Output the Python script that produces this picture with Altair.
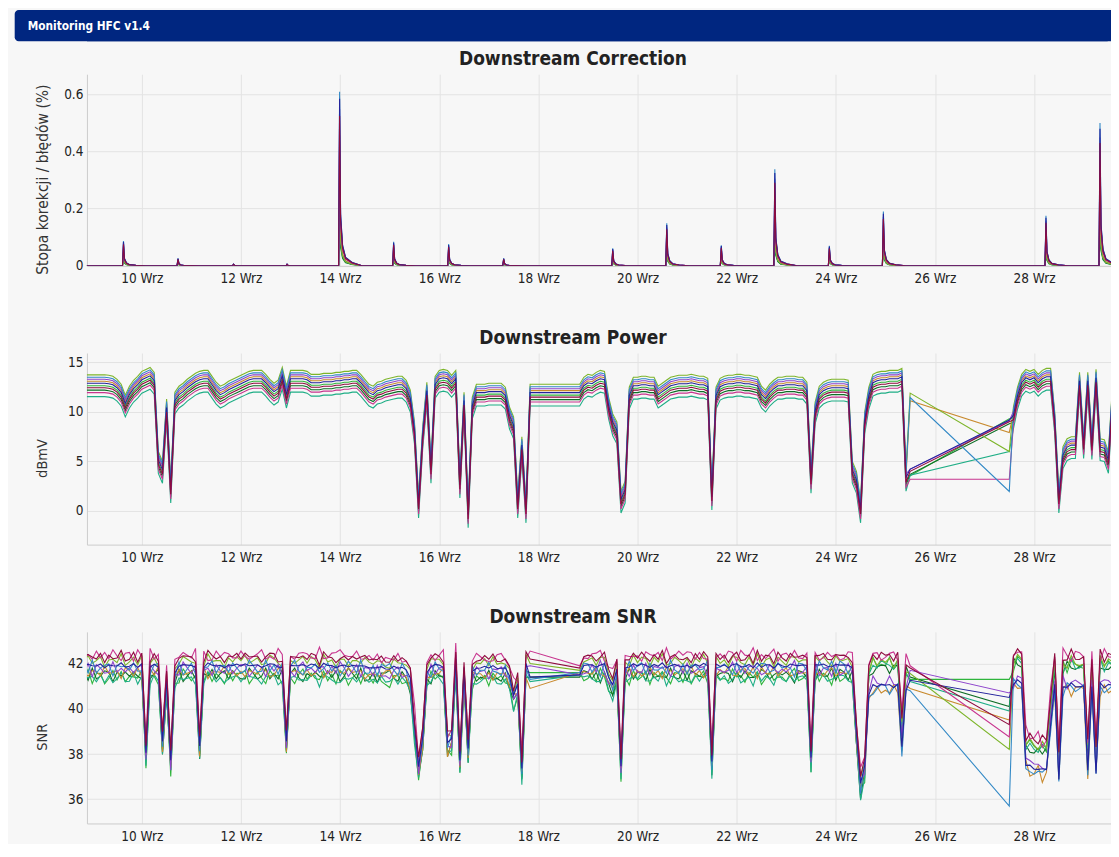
import altair as alt
import pandas as pd

FONT = "DejaVu Sans Condensed, DejaVu Sans, sans-serif"

# channels in drawing order (last one is drawn on top)
CHANNELS = ["green", "dkgreen", "teal", "orange", "olive", "magenta", "violet", "blue", "navy", "maroon"]
COLORS = ["#2fb53c", "#0e6e26", "#1fae86", "#c88a2e", "#7db52a", "#c8358f", "#8e44cc", "#3389c6", "#23229b", "#8e0b3e"]

DAYS = list(range(8, 30))
HOURS = [0, 2, 4, 6, 8, 10, 12, 14, 16, 18, 20, 22]
X_DOMAIN = [8.893, 29.552]
X_TICKS = [10, 12, 14, 16, 18, 20, 22, 24, 26, 28]

N = None
# ---------------- Downstream Power: top (olive) line, every 2 h ----------------
P_TOP = [
    13.75, 13.75, 13.75, 13.75, 13.75, 13.75, 13.75, 13.75, 13.75, 13.75, 13.75, 13.75,  # 8
    13.75, 13.75, 13.75, 13.75, 13.7, 13.6, 13.3, 12.8, 11.7, 12.6, 13.2, 13.6,  # 9
    14.1, 14.3, 14.5, 14.0, 6.0, 5.0, 11.3, 3.0, 12.0, 12.6, 12.9, 13.3,  # 10
    13.6, 13.9, 14.1, 14.2, 14.2, 13.6, 13.0, 12.6, 12.8, 13.1, 13.3, 13.5,  # 11
    13.7, 13.9, 14.1, 14.2, 14.2, 14.2, 13.8, 13.3, 12.9, 13.2, 14.5, 12.6,  # 12
    14.2, 14.2, 14.2, 14.2, 14.1, 13.8, 13.8, 13.8, 13.9, 13.9, 13.9, 14.0,  # 13
    14.0, 14.1, 14.1, 14.2, 14.2, 13.8, 13.3, 12.8, 12.6, 13.0, 13.1, 13.3,  # 14
    13.4, 13.5, 13.6, 13.6, 13.2, 12.2, 9.0, 1.5, 8.5, 13.0, 5.0, 13.6,  # 15
    14.2, 14.3, 14.2, 13.7, 14.2, 3.5, 12.0, 0.5, 11.5, 12.8, 12.8, 12.8,  # 16
    12.9, 12.9, 12.9, 12.9, 12.5, 10.5, 9.5, 1.5, 7.5, 1.0, 12.8, N,  # 17
    N, N, N, N, N, N, N, N, N, N, 12.8, 13.5,  # 18
    13.8, 13.7, 14.0, 14.2, 14.1, 11.5, 9.8, 9.0, 2.0, 3.0, 12.5, 13.5,  # 19
    13.5, 13.6, 13.6, 13.5, 13.5, 12.6, 12.9, 13.2, 13.5, 13.6, 13.7, 13.7,  # 20
    13.7, 13.8, 13.7, 13.6, 13.6, 13.4, 2.3, 12.5, 13.4, 13.6, 13.7, 13.7,  # 21
    13.8, 13.8, 13.7, 13.7, 13.6, 13.5, 12.6, 12.2, 12.8, 13.2, 13.5, 13.5,  # 22
    13.6, 13.6, 13.6, 13.5, 13.5, 13.0, 4.0, 11.0, 12.6, 13.0, 13.2, 13.3,  # 23
    13.3, 13.3, 13.3, 13.2, 5.0, 4.0, 1.0, 10.0, 12.5, 13.8, 14.0, 14.1,  # 24
    14.1, 14.2, 14.2, 14.2, 14.4, 4.2, N, N, N, N, N, N,  # 25
    N, N, N, N, N, N, N, N, N, N, N, N,  # 26
    N, N, N, N, N, N, N, 10.5, 12.5, 13.8, 14.3, 14.1,  # 27
    14.3, 13.8, 14.2, 14.4, 14.4, 10.0, 2.0, 6.5, 7.3, 7.5, 7.5, 14.0,  # 28
    7.5, 14.0, 7.4, 14.3, 7.3, 7.2, 6.0, 12.8, 13.0, 13.0, 13.0, 13.0,  # 29
]
# offset of each channel below the top line (order of CHANNELS)
P_OFF = [-1.1, -1.55, -2.2, -0.65, 0.0, -1.8, -0.45, -0.25, -0.85, -1.3]
# values at the edges of the data gap (25 Wrz 12:00 and 27 Wrz 12:00)
P_GAP_START = [3.56, 3.7, 3.6, 11.13, 11.9, 3.2, 4.2, 11.46, 4.23, 4.0]
P_GAP_END = [9.3, 8.8, 6.0, 7.93, 6.0, 3.2, 9.1, 1.97, 9.18, 9.0]

# ---------------- Downstream SNR: band level, every 2 h ----------------
S_LVL = [
    41.8, 41.8, 41.8, 41.8, 41.8, 41.8, 41.8, 41.8, 41.8, 41.8, 41.8, 41.8,  # 8
    41.8, 41.8, 41.8, 41.8, 41.8, 41.8, 41.8, 41.8, 41.8, 41.8, 41.8, 41.8,  # 9
    41.8, 38.0, 41.8, 41.8, 41.8, 38.4, 41.2, 37.6, 41.5, 41.8, 41.8, 41.8,  # 10
    41.8, 41.8, 38.2, 41.8, 41.8, 41.8, 41.8, 41.8, 41.8, 41.8, 41.8, 41.8,  # 11
    41.8, 41.8, 41.8, 41.8, 41.8, 41.8, 41.8, 41.8, 41.8, 41.8, 41.8, 38.4,  # 12
    41.8, 41.8, 41.8, 41.8, 41.8, 41.8, 41.8, 41.8, 41.8, 41.8, 41.8, 41.8,  # 13
    41.8, 41.8, 41.8, 41.8, 41.8, 41.8, 41.7, 41.7, 41.7, 41.7, 41.7, 41.7,  # 14
    41.7, 41.7, 41.7, 41.7, 41.6, 41.2, 39.3, 37.3, 38.6, 41.5, 41.7, 41.8,  # 15
    41.8, 41.8, 38.3, 38.6, 42.1, 37.6, 41.5, 38.1, 41.6, 41.7, 41.7, 41.7,  # 16
    41.7, 41.7, 41.7, 41.7, 41.7, 41.3, 40.6, 40.9, 37.3, 41.8, 41.8, N,  # 17
    N, N, N, N, N, N, N, N, N, N, 41.6, 41.8,  # 18
    41.8, 41.8, 41.8, 41.8, 41.8, 41.3, 41.0, 41.6, 37.4, 41.7, 41.8, 41.8,  # 19
    41.8, 41.8, 41.8, 41.8, 41.8, 41.8, 41.8, 41.8, 41.8, 41.8, 41.8, 41.8,  # 20
    41.8, 41.8, 41.8, 41.8, 41.8, 41.8, 37.6, 41.8, 41.8, 41.8, 41.8, 41.8,  # 21
    41.8, 41.8, 41.8, 41.8, 41.8, 41.8, 41.8, 41.8, 41.8, 41.8, 41.8, 41.8,  # 22
    41.8, 41.8, 41.8, 41.8, 41.8, 41.8, 37.8, 41.8, 41.8, 41.8, 41.8, 41.8,  # 23
    41.8, 41.8, 41.8, 41.8, 41.8, 38.8, 36.6, 37.4, 41.3, 41.7, 41.7, 41.7,  # 24
    41.7, 41.7, 41.7, 41.7, 39.0, 41.6, N, N, N, N, N, N,  # 25
    N, N, N, N, N, N, N, N, N, N, N, N,  # 26
    N, N, N, N, N, N, N, 41.8, 41.9, 41.8, 38.3, 38.1,  # 27
    38.0, 38.1, 37.9, 38.0, 40.0, 41.7, 37.6, 41.7, 41.7, 41.7, 41.7, 41.7,  # 28
    41.7, 37.9, 41.7, 37.9, 41.7, 41.7, 41.7, 41.7, 41.7, 41.7, 41.7, 41.7,  # 29
]
# channel offsets before / after 24.6 Wrz
S_OFF_EARLY = [-0.4, -0.3, -0.5, -0.15, 0.3, 0.6, -0.05, 0.0, 0.1, 0.45]
S_OFF_LATE = [0.25, 0.1, 0.15, -0.8, 0.3, 0.75, -0.5, -0.85, -0.7, 0.55]
S_SPLIT = 24.6
S_JIT_A = [
    2, -1, 3, 0, -2, 1, -3, 2, 1, -1, 0, 3,
    -2, 1, 2, -3, 0, 2, -1, 3, -2, 0, 1, -1,
    3, -2, 0, 1, -3, 2, 2, -1, 0, -2, 3, 1,
    -1, 0, 2, -2, 3, -1, 1, 0, -3, 2, -1, 2,
    1, 3, -2, 0, 2, -1, -2, 3, 1, 0, -3, 1,
    0, -2, 1, 3, -1, 2, 0, -2, 3, -1, 1, -3,
    2, 1, -3, 0, 1, -2, 3, 1, -1, 2, 0, -2,
    -3, 2, 1, -1, 0, 3, -2, 0, 2, -1, 3, 0,
    1, -1, 3, -2, 2, 0, -1, 2, -3, 1, 0, 2,
    -2, 3, 0, 1, -1, 2, -3, 1, 0, 3, -2, 1,
    3, 0, -1, 2, -2, 1, 2, -3, 1, 0, 2, -1,
    0, 2, -2, 3, 1, -1, 0, 2, -2, 1, -3, 3,
    -1, 1, 2, -3, 2, 0, 3, -1, -2, 2, 1, -2,
    2, -3, 1, 0, 3, -2, 1, 2, -1, 0, -2, 3,
    1, 0, -2, 2, -1, 3, -3, 0, 2, -2, 1, 0,
    -2, 2, 3, -1, 0, 1, -2, 3, -1, 2, 0, -3,
    3, -1, 0, 2, -3, 1, 2, -2, 0, 3, -1, 1,
    0, 3, -2, 1, 2, -3, 0, 1, 3, -2, 2, -1,
    -3, 1, 2, 0, -1, 2, 3, -2, 1, -1, 0, 2,
    2, 0, -1, 3, -2, 0, 1, -3, 2, 1, -2, 3,
    1, -2, 3, -1, 0, 2, -1, 1, -3, 3, 0, -1,
    -1, 2, 0, -2, 3, -1, 2, 0, 1, -2, 3, 0,
]
S_JIT_B = [
    -1, 2, 0, 3, -2, -1, 2, 0, -3, 1, 2, -1,
    3, -2, 1, 0, 2, -3, 1, 2, 0, -1, 3, -2,
    0, 1, -3, 2, 1, 0, -2, 3, -1, 2, -2, 0,
    2, -3, 0, -1, 2, 3, -2, 1, 0, -1, 2, 1,
    -2, 0, 3, 1, -1, -2, 3, 0, 2, -3, 1, 2,
    1, 3, -1, -2, 0, 1, 2, -3, 1, 2, -1, 0,
    -3, 0, 2, 1, -2, 3, 0, -1, 2, -2, 3, 1,
    2, 1, -2, 3, 1, -1, -3, 2, 0, 1, -2, 3,
    0, -2, 1, 2, -3, 1, 3, -1, 2, -2, 0, 1,
    3, 1, -1, -2, 2, 0, -1, 3, -2, 1, 2, -3,
    -1, 2, 3, 0, -1, -3, 2, 1, -2, 3, 0, 2,
    2, -1, 0, -3, 3, 1, -2, 0, 1, -1, 2, 0,
    1, 3, -2, 1, 0, -1, 2, -3, 3, 0, -2, 1,
    -2, 0, 2, -1, 1, 3, -3, 1, 0, 2, -1, -2,
    3, -2, 1, 0, -3, 2, 1, 2, -1, -2, 3, 0,
    0, 1, -3, 2, 2, -1, 0, -2, 3, 1, -1, 2,
    -1, 3, 2, -2, 0, 1, -3, 2, 1, -1, 0, 3,
    2, -1, 0, 3, -2, 0, 2, -1, -3, 2, 1, -2,
    1, 0, -2, 1, 3, -3, 1, 0, 2, -1, 3, -1,
    -3, 2, 1, -1, 0, 2, -2, 3, 1, 0, -2, 1,
    0, -1, 3, 2, -2, 1, 0, -3, 2, 3, -1, 0,
    2, 1, -1, 0, 3, -2, 1, 2, -3, 0, 2, -1,
]
S_WA = [1.0, -0.6, 0.5, -0.8, 0.9, -0.3, 0.6, -0.4, 0.3, 0.7]
S_WB = [-0.3, 0.6, 0.8, -0.4, 0.3, -0.9, -0.7, 0.9, 0.2, 0.6]
# per-channel values at the edges of the data gaps
S_GAP1_START = [41.6, 41.4, 41.2, 40.9, 42.0, 42.55, 41.9, 41.3, 41.4, 42.2]   # 17 Wrz 20:00
S_GAP1_END = [41.6, 41.4, 41.5, 41.6, 41.7, 41.9, 41.5, 41.6, 41.5, 41.8]      # 18 Wrz 20:00
S_GAP2_START = [41.3, 41.4, 41.2, 40.9, 41.56, 41.9, 41.7, 40.8, 41.26, 41.8]  # 25 Wrz 12:00
S_GAP2_END = [41.3, 40.1, 39.9, 39.5, 38.2, 38.75, 40.7, 35.7, 40.5, 39.3]     # 27 Wrz 12:00

# ---------------- Downstream Correction: spikes ----------------
SPIKE_T = [9.63, 10.73, 11.85, 12.93, 13.99, 15.08, 16.19, 17.30, 19.50, 20.59, 21.69, 22.77, 23.87, 24.96, 28.24, 29.33]
SPIKE_P = [0.087, 0.026, 0.006, 0.006, 0.609, 0.084, 0.076, 0.026, 0.061, 0.149, 0.072, 0.338, 0.070, 0.190, 0.175, 0.499]
TAIL_DT = [-0.02, 0.0, 0.02, 0.06, 0.12, 0.25, 0.45]
TAIL_F = [0.0, 1.0, 0.3, 0.12, 0.05, 0.02, 0.0]
C_RATIO = [0.35, 0.4, 0.45, 0.5, 0.55, 0.75, 0.9, 1.0, 0.96, 0.86]

TITLES = ["Downstream Correction", "Downstream Power", "Downstream SNR"]
Y_TITLES = ["Stopa korekcji / błędów (%)", "dBmV", "SNR"]
HEADER = "Monitoring HFC v1.4"


def idx(day, hour):
    return (day - 8) * 12 + hour // 2


T = [d + h / 24.0 for d in DAYS for h in HOURS]

# power table
P_OVR = {idx(25, 12): P_GAP_START, idx(27, 12): P_GAP_END}
rows = []
for k, ch in enumerate(CHANNELS):
    for i, t in enumerate(T):
        if i in P_OVR:
            rows.append({"t": t, "v": P_OVR[i][k], "ch": ch})
        elif P_TOP[i] is not None:
            rows.append({"t": t, "v": P_TOP[i] + P_OFF[k], "ch": ch})
power_df = pd.DataFrame(rows)

# SNR table
S_OVR = {idx(17, 20): S_GAP1_START, idx(18, 20): S_GAP1_END,
         idx(25, 12): S_GAP2_START, idx(27, 12): S_GAP2_END}
rows = []
for k, ch in enumerate(CHANNELS):
    for i, t in enumerate(T):
        if i in S_OVR:
            rows.append({"t": t, "v": S_OVR[i][k], "ch": ch})
        elif S_LVL[i] is not None:
            off = S_OFF_LATE[k] if t >= S_SPLIT else S_OFF_EARLY[k]
            jit = 0.1 * (S_WA[k] * S_JIT_A[i] + S_WB[k] * S_JIT_B[i])
            rows.append({"t": t, "v": S_LVL[i] + off + jit, "ch": ch})
snr_df = pd.DataFrame(rows)

# correction table
rows = []
for k, ch in enumerate(CHANNELS):
    rows.append({"t": 8.85, "v": 0.0, "ch": ch})
    for ts, p in zip(SPIKE_T, SPIKE_P):
        for dt, f in zip(TAIL_DT, TAIL_F):
            rows.append({"t": ts + dt, "v": p * f * C_RATIO[k], "ch": ch})
    rows.append({"t": 29.7, "v": 0.0, "ch": ch})
corr_df = pd.DataFrame(rows)

W = 1024.7
H = 191.7
GRID = "#e3e3e3"
DOMAIN = "#cccccc"
TITLE_DX = -26
hdr = pd.DataFrame({"a": [0]})


def panel(df, title, ytitle, ytitle_size, ydomain, yticks):
    x = alt.X("t:Q", scale=alt.Scale(domain=X_DOMAIN, nice=False, zero=False),
              axis=alt.Axis(values=X_TICKS, labelExpr="datum.value + ' Wrz'", title=None,
                            grid=True, gridColor=GRID, tickSize=0, labelPadding=6,
                            labelFont=FONT, labelFontSize=13.5, labelColor="#222",
                            domainColor=DOMAIN, labelFlush=False))
    y = alt.Y("v:Q", scale=alt.Scale(domain=ydomain, nice=False, zero=False),
              axis=alt.Axis(values=yticks, format="~g", title=ytitle, grid=True, gridColor=GRID,
                            tickSize=0, labelPadding=4, labelFont=FONT, labelFontSize=13.5,
                            labelColor="#222", domainColor=DOMAIN,
                            titleX=-44.3, titleY=105, titleAlign="center", titleBaseline="middle",
                            titleFont=FONT, titleFontSize=ytitle_size, titleFontWeight="normal",
                            titleColor="#333"))
    lines = alt.Chart(df).mark_line(strokeWidth=1.1, clip=True).encode(
        x=x, y=y,
        color=alt.Color("ch:N", scale=alt.Scale(domain=CHANNELS, range=COLORS), legend=None),
    )
    ttl = alt.Chart(hdr).mark_text(
        text=title, align="center", baseline="alphabetic", font=FONT, fontSize=19,
        fontWeight="bold", color="#222").encode(x=alt.value(W / 2 + TITLE_DX), y=alt.value(-9))
    return ttl, lines


header_round = alt.Chart(hdr).mark_rect(color="#002680", cornerRadius=4).encode(
    x=alt.value(-72.3), x2=alt.value(W), y=alt.value(-64.3), y2=alt.value(-33))
header_square = alt.Chart(hdr).mark_rect(color="#002680").encode(
    x=alt.value(0), x2=alt.value(W), y=alt.value(-64.3), y2=alt.value(-33))
header_text = alt.Chart(hdr).mark_text(
    text=HEADER, align="left", baseline="middle", font=FONT,
    fontSize=11.8, fontWeight="bold", color="white").encode(x=alt.value(-59.3), y=alt.value(-48.5))

t1, l1 = panel(corr_df, TITLES[0], Y_TITLES[0], 15.5, [0, 0.67], [0, 0.2, 0.4, 0.6])
t2, l2 = panel(power_df, TITLES[1], Y_TITLES[1], 14.5, [-3.4, 15.95], [0, 5, 10, 15])
t3, l3 = panel(snr_df, TITLES[2], Y_TITLES[2], 14.5, [34.93, 43.4], [36, 38, 40, 42])

c1 = alt.layer(header_round, header_square, header_text, t1, l1).properties(width=W, height=H)
c2 = alt.layer(t2, l2).properties(width=W, height=H)
c3 = alt.layer(t3, l3).properties(width=W, height=H)

chart = alt.vconcat(c1, c2, c3, spacing=43).resolve_scale(
    x="independent", y="independent"
).properties(
    background="#f7f7f7", padding={"left": 6, "top": 1, "right": 0, "bottom": 0}
).configure_view(strokeWidth=0)

chart.save("out.html", embed_options={"renderer": "svg", "actions": False})
